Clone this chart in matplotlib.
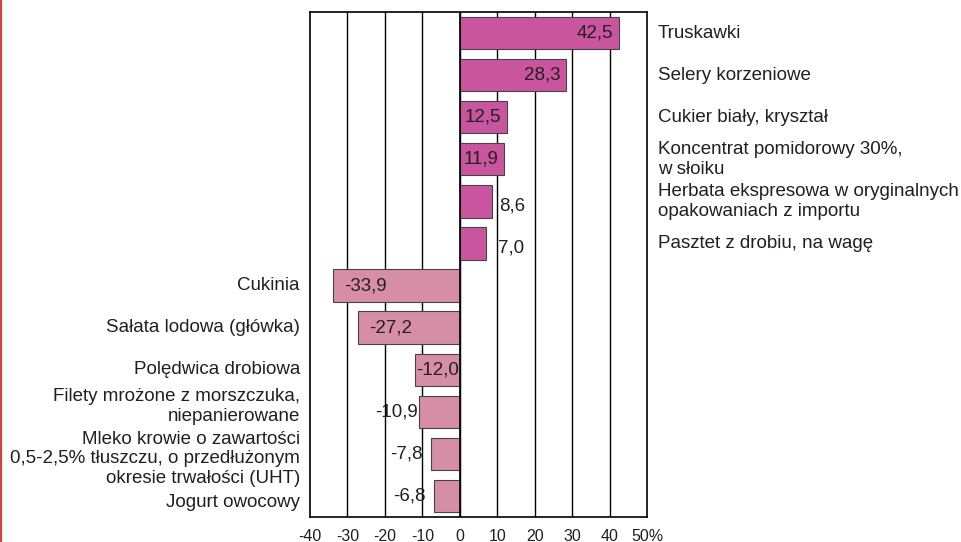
import matplotlib
matplotlib.use('Agg')
import matplotlib.pyplot as plt

plt.rcParams['font.family'] = ['Liberation Sans', 'DejaVu Sans']

# data (top to bottom)
categories = ['Truskawki', 'Selery korzeniowe', 'Cukier biały, kryształ',
              'Koncentrat pomidorowy 30%,\nw słoiku',
              'Herbata ekspresowa w oryginalnych\nopakowaniach z importu',
              'Pasztet z drobiu, na wagę',
              'Cukinia', 'Sałata lodowa (główka)', 'Polędwica drobiowa',
              'Filety mrożone z morszczuka,\nniepanierowane',
              'Mleko krowie o zawartości\n0,5-2,5% tłuszczu, o przedłużonym\nokresie trwałości (UHT)',
              'Jogurt owocowy']
values = [42.5, 28.3, 12.5, 11.9, 8.6, 7.0, -33.9, -27.2, -12.0, -10.9, -7.8, -6.8]
xticks = [-40, -30, -20, -10, 0, 10, 20, 30, 40, 50]
xticklabels = ['-40', '-30', '-20', '-10', '0', '10', '20', '30', '40', '50%']

txt = '#231f20'
pos_col = '#c9559f'
neg_col = '#d68ea6'

fig = plt.figure(figsize=(9.61, 5.42), dpi=100)
ax = fig.add_axes([310 / 961, 1 - 517 / 542, 337 / 961, 505 / 542])

ypos = list(range(len(values)))
colors = [pos_col if v > 0 else neg_col for v in values]
for x in xticks[1:-1]:
    ax.axvline(x, color='black', lw=1.0, zorder=1)
ax.barh(ypos, values, height=0.77, color=colors, edgecolor='#444444', lw=0.8, zorder=2)
ax.axvline(0, color='black', lw=1.2, zorder=3)

ax.set_xlim(-40, 50)
ax.set_ylim(len(values) - 0.5, -0.5)
ax.set_yticks([])
ax.set_xticks(xticks)
ax.set_xticklabels(xticklabels, fontsize=11.5, color=txt)
ax.tick_params(axis='x', length=0, pad=8.5)
for s in ax.spines.values():
    s.set_linewidth(1.2)

fs = 13.5
ls = 1.2
for i, (c, v) in enumerate(zip(categories, values)):
    lab = f'{v:.1f}'.replace('.', ',')
    if v > 0:
        ax.text(52.9, i, c, ha='left', va='center', fontsize=fs, color=txt,
                linespacing=ls, clip_on=False)
        if v > 10:
            ax.text(v - 1.5, i, lab, ha='right', va='center', fontsize=fs, color=txt)
        else:
            ax.text(max(v + 1.8, 10.3), i + 0.1, lab, ha='left', va='center',
                    fontsize=fs, color=txt)
    else:
        dy = {9: -0.12, 10: 0.12, 11: 0.15}.get(i, 0)
        ax.text(-42.7, i + dy, c, ha='right', va='center', fontsize=fs,
                color=txt, linespacing=ls, clip_on=False)
        if v < -20:
            ax.text(v + 3, i, lab, ha='left', va='center', fontsize=fs, color=txt)
        elif v < -11.5:
            ax.text(v + 0.4, i, lab, ha='left', va='center', fontsize=fs, color=txt, zorder=4)
        else:
            ax.text(v - 0.3 if v < -10 else v - 2.2, i, lab, ha='right', va='center',
                    fontsize=fs, color=txt)

# red line at left edge
fig.add_artist(plt.Line2D([0.0015, 0.0015], [0, 1], color='#d9403a', lw=1.5))

plt.savefig('out.png', dpi=100)
plt.close()
